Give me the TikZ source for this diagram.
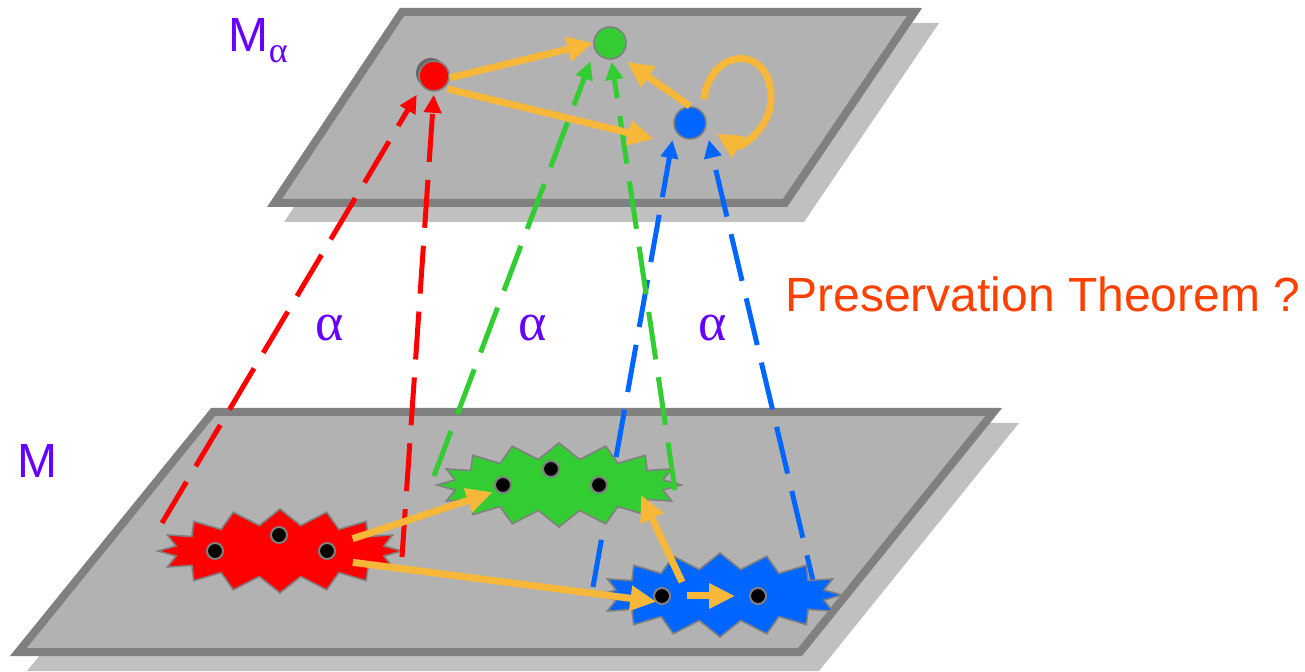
\documentclass[tikz,border=0pt]{standalone}
\usepackage{fontspec}
\setmainfont{Liberation Sans}
\newfontfamily\greekfont{Liberation Serif}
\usepackage{xcolor}
\usepackage{tikz}
\usetikzlibrary{arrows.meta,shapes.symbols}

\definecolor{planegray}{RGB}{178,178,178}
\definecolor{rimgray}{RGB}{128,128,128}
\definecolor{shadowgray}{RGB}{192,192,192}
\definecolor{flowc}{RGB}{247,183,57}
\definecolor{redc}{RGB}{255,0,0}
\definecolor{greenc}{RGB}{51,204,51}
\definecolor{bluec}{RGB}{0,102,255}
\definecolor{labelc}{RGB}{102,0,255}
\definecolor{titlec}{RGB}{255,64,0}

\tikzset{
  plane/.style={fill=planegray,draw=rimgray,line width=4pt,line join=miter},
  planeshadow/.style={fill=shadowgray},
  absnode/.style={circle,draw=rimgray,line width=0.8pt,minimum size=15pt,inner sep=0pt},
  concset/.style={starburst,starburst points=16,starburst point height=8pt,random starburst=0,
    draw=rimgray,line width=0.8pt,minimum width=122pt,minimum height=42pt,inner sep=0pt},
  cstate/.style={circle,fill=black,draw=rimgray,line width=1pt,minimum size=8pt,inner sep=0pt,outer sep=0pt},
  alphamap/.style={line width=2.5pt,dash pattern=on 24pt off 9pt,-{Triangle[length=9pt,width=8.5pt]}},
  flow/.style={draw=flowc,line width=3.5pt,-{Triangle[length=13pt,width=12pt]}},
  lbl/.style={text=labelc,font=\fontsize{24}{28}\selectfont,inner sep=0pt},
  alphalbl/.style={lbl,font=\fontsize{27}{30}\selectfont\greekfont}
}

\begin{document}
\begin{tikzpicture}[x=0.5pt,y=-0.5pt]
\useasboundingbox (0,0) rectangle (1305,672);
% the two planes
\fill[planeshadow] (417,23) -- (939,23) -- (804,222) -- (284,222) -- cycle;
\draw[plane] (402,12) -- (914.5,12) -- (785,203) -- (274.5,203) -- cycle;
\fill[planeshadow] (228,423) -- (1019,423) -- (819,671) -- (27,671) -- cycle;
\draw[plane] (213,412) -- (993.7,412) -- (800,652) -- (18.3,652) -- cycle;

\node[lbl,anchor=base west] (mabs) at (228.5,52) {M\raisebox{-5.5pt}{\fontsize{18}{20}\selectfont\greekfont α}};
\node[lbl,anchor=base west] (mconc) at (17.5,478) {M};
\node[alphalbl] (alpha1) at (330,328) {α};
\node[alphalbl] (alpha2) at (533,328) {α};
\node[alphalbl] (alpha3) at (713,328) {α};
\node[anchor=base west,text=titlec,font=\fontsize{24}{28}\selectfont,inner sep=0pt] (pthm) at (785,312) {Preservation Theorem ?};

% abstract states
\node[circle,fill=black!60,minimum size=15pt,inner sep=0pt] (redshade) at (431,73) {};
\node[absnode,fill=redc] (redtop) at (434,76) {};
\node[absnode,fill=greenc,minimum size=16pt] (greentop) at (610,43) {};
\node[absnode,fill=bluec,minimum size=16pt] (bluetop) at (690,123) {};

% lower ends of the alpha maps
\coordinate (r1) at (162,523);
\coordinate (r2) at (402,557);
\coordinate (g1) at (434,476);
\coordinate (g2) at (675,490);
\coordinate (b1) at (593,587);
\coordinate (b2) at (818,602);

\draw[alphamap,bluec,shorten >=5.5pt] (b1) -- (bluetop.202);
\draw[alphamap,bluec,shorten >=6pt] (b2) -- (bluetop.342);

% concrete sets
\node[concset,fill=redc] (redset) at (280,551) {};
\node[concset,fill=greenc] (greenset) at (559,485) {};
\node[concset,fill=bluec] (blueset) at (720,595) {};

\node[cstate] (rd1) at (215,551) {};
\node[cstate] (rd2) at (279,535) {};
\node[cstate] (rd3) at (327,551) {};
\node[cstate] (gd1) at (503,485) {};
\node[cstate] (gd2) at (551,469) {};
\node[cstate] (gd3) at (599,485) {};
\node[cstate] (bd1) at (662,596) {};
\node[cstate] (bd2) at (758,596) {};

\draw[alphamap,redc,shorten >=5pt] (r1) -- (redtop.220);
\draw[alphamap,redc,shorten >=1.5pt] (r2) -- (redtop.south);
\draw[alphamap,greenc,shorten >=6pt] (g1) -- (greentop.205);
\draw[alphamap,greenc,shorten >=1pt] (g2) -- (greentop.275);

% transitions
\coordinate (rbtip) at (654,139);
\coordinate (bgstart) at (682,582);
\coordinate (bgtip) at (641,495);
\draw[flow] (redtop.-7) -- (greentop.west);
\draw[flow,shorten <=1.5pt] (redtop.-50) -- (rbtip);
\draw[flow,shorten >=4.5pt] (bluetop.north) -- (greentop.-55);
\draw[flow,shorten <=6pt,shorten >=6pt] (bluetop.45) .. controls (712,45) and (772,45) .. (771,99)
  .. controls (770,130) and (740,148) .. (bluetop.-15);
\draw[flow,shorten <=10.5pt,shorten >=2.5pt] (rd3.north east) -- (gd1.south west);
\draw[flow,shorten <=13pt] (rd3.south) -- (bd1.south west);
\draw[flow] (bgstart) -- (bgtip);
\draw[flow,shorten <=8.5pt,shorten >=7.5pt] (bd1) -- (bd2);
\end{tikzpicture}
\end{document}
